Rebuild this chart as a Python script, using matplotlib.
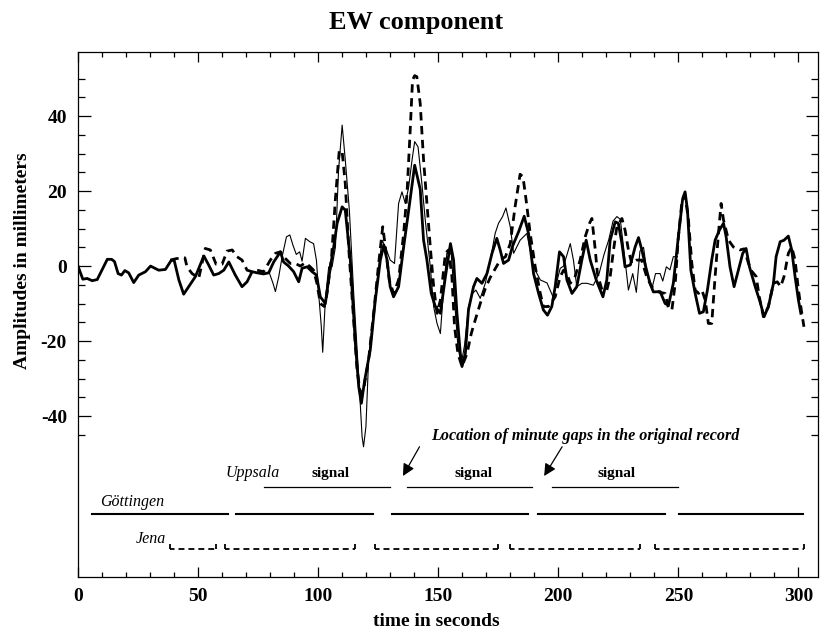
import matplotlib.pyplot as plt

plt.rcParams['font.family'] = ['Liberation Serif', 'DejaVu Serif']
plt.rcParams['axes.unicode_minus'] = False

# Goettingen (thick solid)
t_g = [0, 2, 3.8, 5.9, 8, 10, 12.2, 14, 15.2, 16.7, 18.1, 19.5, 21.1, 23.2, 25.3, 28.1, 30.2,
       33.6, 36.4, 38.9, 40.1, 42, 44, 46.1, 48.9, 52.4, 54.4, 56.5, 58.6, 60.7, 62.8, 65.5,
       68.3, 70.4, 72.5, 74.6, 77.3, 79.4, 81.5, 84.3, 85.6, 87.7, 89.8, 91.9, 93.3, 95.4,
       97.5, 99.3, 100.9, 103, 105.1, 106.5, 107.9, 110, 111.3, 113.4, 115.5, 116.9, 118,
       119.4, 121.7, 123.8, 125.9, 127.3, 128.7, 130, 131.4, 133.5, 135.6, 137.7, 140.2,
       142.5, 143.9, 145.3, 147.1, 148.8, 150.9, 153, 155.1, 156.4, 157.8, 159.2, 159.9,
       161.3, 162.6, 164.7, 166.1, 168.2, 170.3, 172.4, 174.4, 175.8, 177.2, 179.3, 181,
       183.5, 185.8, 187.6, 189.7, 191.8, 193.8, 195.5, 197.3, 198.7, 200.5, 202.2, 203.6,
       205.7, 207.7, 209.8, 211.6, 213.3, 215.8, 218.6, 220.2, 221.6, 223.7, 225, 226.5,
       227.8, 230, 232, 233.4, 234.8, 236.2, 238.2, 239.6, 242.4, 244.5, 245.9, 247.9, 250,
       251.8, 252.8, 253.8, 255.2, 257, 258.8, 260.4, 262.1, 263.9, 265.3, 267.1, 268.8,
       269.9, 271.5, 273.2, 275, 276.8, 278.2, 279.6, 282, 284, 285.7, 287.5, 289.6, 290.7,
       292.4, 294, 295.8, 297.2, 298.6, 300, 301]
a_g = [0, -3.5, -3.3, -3.9, -3.6, -1, 1.8, 1.8, 1.2, -2, -2.4, -1.2, -1.8, -4.4, -2.4, -1.5, 0,
       -1.1, -0.9, 1.6, 1.4, -3.7, -7.5, -5.5, -2.8, 2.7, 0.3, -2.4, -2, -1.1, 1.1, -2.4,
       -5.5, -4.2, -1.5, -1.8, -2.1, -1.8, 1.1, 3.8, 1.1, 0, -1.5, -4.2, -0.6, -0.2,
       -1.5, -2.4, -8.2, -10, -0.2, 5.2, 11.4, 15.8, 14.9, 1.6, -20.6, -32.2, -36.6,
       -30.4, -22.4, -9.1, 1.6, 5.6, 1.6, -5.5, -8.2, -5.5, 5.1, 14.9, 26.9,
       20.5, 6.9, 1.6, -7.3, -10.8, -12.6, -2.8, 6, 1.6, -12.6, -23.3, -26.8,
       -23.3, -11.7, -5.5, -3.3, -4.6, -2, 3.4, 7.4, 4.3, 0.7, 1.6, 5.4,
       9.2, 13.3, 8.7, -2, -7.3, -11.7, -13.1, -10.8, -5.5, 3.8, 2.5, -3.7,
       -7.3, -5.5, 1.6, 6.9, 1.6, -3.7, -8.2, -3.7, 6.9, 11.8, 11.4, 6,
       -0.2, 0.3, 5.1, 7.6, 4.3, 0.3, -4.6, -6.9, -6.8, -10, -10.4, -4.6, 7.8,
       18, 19.8, 14.9, -1.1, -7.3, -12.6, -12.2, -6.4, 1.6, 6.9, 9.6, 11.4,
       7.8, -0.2, -5.5, -1.1, 3.4, 4.7, -0.2, -5.5, -9.5, -13.5, -10.8, -4.6, 2.5,
       6.5, 6.9, 8, 4.3, -2.8, -9.1, -12.6]

# Jena (dashed)
t_j = [38.5, 41, 44.5, 45.4, 47.5, 50.3, 53, 55.1, 57.5, 60, 62.1, 64.2, 66.2, 68.3, 70.4,
       72.5, 74.6, 77.3, 80.1, 82.2, 84.3, 85.6, 88.4, 90.5, 92.6, 94.7, 96.7, 98.1, 99.5,
       100.9, 102.6, 103.7, 105.6, 107.2, 108.8, 110, 111.3, 112.7, 114.8, 116.2, 117.6,
       118.9, 121, 123.1, 125.2, 126.9, 128, 129.6, 131.4, 133.5, 135.6, 137, 138.4, 139.3,
       140.2, 141.1, 142.5, 143.9, 145.3, 146.7, 148.1, 149.5, 150.9, 153, 154.3, 155.7,
       156.8, 158.2, 159.9, 162, 163.8, 165.4, 167.5, 169.6, 171.7, 173.5, 175.8, 178, 180,
       182, 184.1, 185.3, 186.6, 188.3, 190.4, 192.5, 193.8, 195.9, 198.7, 200.8, 202.2,
       203.6, 205, 207, 209.1, 211.2, 213, 214, 215.4, 216.3, 218.2, 220.2, 221.6, 223,
       224.4, 226.5, 227.8, 229.2, 230.6, 232.6, 234.7, 236.8, 238.9, 241.6, 244.5, 245.9,
       247.3, 248.7, 250, 251.4, 252.8, 254.2, 255.6, 257, 258.4, 259.8, 261.2, 262.5,
       263.9, 265.3, 266.7, 267.8, 268.8, 270.9, 272.9, 275.7, 277.4, 279.2, 280.6, 282.4,
       283.7, 285.4, 287.5, 289.6, 291.2, 292.6, 294, 295.8, 297.2, 298.6, 300, 301.4, 302.3]
a_j = [1.6, 2, 2.2, -0.2, -2, -3.2, 4.7, 4.3, 0.5, 0.5, 4, 4.3, 2.5, 1.6, -1.1,
       -1.5, -1.1, -1.5, 1.6, 3.4, 3.8, 2.5, 0.7, 0.7, 0, 0.9, -0.2, -1.1, -4.6,
       -10, -10.8, -7.3, 2.5, 18, 30.9, 30.5, 22, 5.1, -14.4, -27.7, -34,
       -33, -25, -12.6, 0.7, 10.5, 5.1, -3.7, -7.3, -3.7, 8.7, 19.4, 37.1, 49.6,
       50.8, 50.5, 43.4, 28.3, 16.7, 5.1, -5.5, -12.6, -9.1, 3.4, 4.3, -2.8,
       -16.2, -23.3, -26.8, -23.3, -17.9, -14.4, -10, -6, -3, -1, 1.6, 2.5, 6,
       15.8, 24.5, 23.8, 17.6, 8.7, -0.2, -7.3, -10.8, -10.8, -8.2, -2.8, -1.1,
       -2, -4.6, -2.8, 1.6, 7.8, 11.4, 12.7, 4.3, -2, -6.4, -6.4, -2.8, 4.3,
       10.5, 12.7, 9.6, 4.3, 0.7, 1.6, 1.6, -2.8, -5.5, -6.9, -7.3, -11.3,
       -11.7, -4.6, 7.8, 16.7, 18.9, 12.3, 0.7, -6.4, -7.3, -6.4, -9.1, -15.3,
       -15.3, -2.8, 8.7, 16.7, 12.3, 6.9, 5.1, 4.3, 4.6, 0.7, -1.4, -2.8,
       -8.2, -13.5, -10.8, -4.6, -4.2, -5.5, -2.8, 3.4, 5.1, 1.6, -6.4, -12.6, -16.2]

# Uppsala (thin solid)
t_u = [79.5, 81.2, 82.2, 83.6, 85, 86.8, 88.2, 89.5, 90.9, 92.3, 93.3, 94.7, 96.5, 98.1, 99.3,
       100.2, 101.3, 101.9, 103, 104.4, 105.8, 107.2, 108.5, 110, 111.3, 113, 114.8, 116.9,
       118.3, 118.9, 119.9, 121, 123.1, 124.9, 126.6, 128, 130, 131.8, 133.5, 134.9, 136.3,
       137.7, 139.1, 140.2, 141.6, 143.2, 144.6, 146.7, 148.1, 149.5, 150.9, 152.3, 153.6,
       155.4, 156.8, 158.2, 159.6, 161, 162.6, 164.3, 165.7, 167.5, 169.6, 171.7, 173.7,
       175.1, 176.8, 178.2, 180, 181.4, 184.1, 186.9, 189.7, 192.5, 195.3, 197.8, 200.8,
       202.2, 205, 206.3, 207.7, 209.8, 212, 214.6, 217, 219, 221, 222.8, 224.4, 225.8,
       227.8, 229.2, 231, 232.5, 234, 235.5, 237, 239, 240.5, 242.4, 243.5, 245, 246.5,
       247.9, 249.6]
a_u = [-1.5, -4.6, -6.8, -2.8, 2.5, 7.8, 8.3, 5.6, 3.1, 3.8, 1.3, 7.4, 6.5, 6, 1.5,
       -7.3, -16, -23, -9, -0.2, -0.2, 5.1, 25.6, 37.6, 28.3, 14.9, -7.3, -29.5,
       -45.5, -48.2, -42.8, -25, -11.7, -2, 6.9, 5.1, 1.6, 0.7, 16.7, 19.8, 16.7,
       21.1, 28.3, 33.2, 31.8, 22, 12.3, -0.2, -10.8, -15.3, -18, -5.5, 3.4,
       3.4, -9.1, -21.5, -26, -21, -10.8, -7.3, -6.4, -8.6, -4.6, 1.6, 8.7,
       11.4, 13.2, 15.5, 10.5, 3.4, 6.9, 8.7, -0.2, -3.7, -4.5, -8.2, -0.6,
       0, 6, 1.6, -5.5, -4.6, -4.6, -5.1, -2, 3, 7, 12, 13.2, 12.5,
       1.6, -6.4, -2, -7, 4, 5, -2, -6, -2, -2, -4, -0.2, -1,
       2.5, 2.5]

# record segments (start, end) in seconds
upp_segs = [(77.6, 130), (137, 189), (197.3, 249.8)]
goe_segs = [(5.9, 62.5), (66, 123), (130.7, 187.3), (191.5, 244.5), (250.3, 302)]
jena_segs = [(38.2, 57.5), (61.3, 115.4), (123.5, 174.7), (180, 234), (240.3, 302.5)]
signal_x = [105, 164.6, 224.4]

fig = plt.figure(figsize=(8.32, 6.37), dpi=100)
ax = fig.add_axes([0.09375, 0.0942, 0.889, 0.824])

ax.plot(t_u, a_u, color='black', lw=0.8)
ax.plot(t_g, a_g, color='black', lw=2.0)
ax.plot(t_j, a_j, color='black', lw=2.0, linestyle=(0, (3, 2)))

for x0, x1 in upp_segs:
    ax.plot([x0, x1], [-59, -59], color='black', lw=0.9)
for x0, x1 in goe_segs:
    ax.plot([x0, x1], [-66, -66], color='black', lw=1.5)
for x0, x1 in jena_segs:
    ax.plot([x0, x1], [-75.5, -75.5], color='black', lw=1.3, linestyle=(0.8, (3.3, 2.2)))
    ax.plot([x0, x0], [-74.0, -75.5], color='black', lw=1.3, solid_capstyle='butt')
    ax.plot([x1, x1], [-74.0, -75.5], color='black', lw=1.3, solid_capstyle='butt')

ax.text(61.4, -55.2, 'Uppsala', style='italic', fontsize=11.5, va='center', ha='left')
ax.text(9.4, -62.8, 'Göttingen', style='italic', fontsize=11.5, va='center', ha='left')
ax.text(36.8, -72.8, 'Jena', style='italic', fontsize=11.5, va='center', ha='right')
for sx in signal_x:
    ax.text(sx, -55.2, 'signal', fontweight='bold', fontsize=11, va='center', ha='center')
ax.text(147.1, -45.3, 'Location of minute gaps in the original record', style='italic',
        fontweight='bold', fontsize=11.6, va='center', ha='left')

for tail, head in [((142.2, -48.2), (135.3, -56)), ((201.6, -48.2), (194.1, -56))]:
    ax.annotate('', xy=head, xytext=tail,
                arrowprops=dict(arrowstyle='-|>', color='black', lw=0.9,
                                mutation_scale=18, shrinkA=0, shrinkB=0))

ax.set_xlim(0, 308)
ax.set_ylim(-82.93, 57.07)
ax.set_xticks(range(0, 301, 50))
ax.set_xticks(range(0, 309, 10), minor=True)
ax.set_yticks(range(-40, 41, 20))
ax.set_yticks(range(-45, 51, 5), minor=True)
ax.tick_params(which='both', direction='in', top=True, right=True, width=0.9,
               labelsize=14)
ax.tick_params(axis='x', which='major', length=7, pad=8)
ax.tick_params(axis='x', which='minor', length=3.5)
ax.tick_params(axis='y', which='major', length=9, pad=8)
ax.tick_params(axis='y', which='minor', length=4.8)
for lab in ax.get_xticklabels() + ax.get_yticklabels():
    lab.set_fontweight('bold')
for sp in ax.spines.values():
    sp.set_linewidth(0.9)

fig.text(0.5, 0.964, 'EW component', fontsize=19, fontweight='bold', ha='center', va='center')
fig.text(0.524, 0.024, 'time in seconds', fontsize=14, fontweight='bold', ha='center', va='center')
fig.text(0.027, 0.59, 'Amplitudes in millimeters', fontsize=14, fontweight='bold',
         ha='center', va='center', rotation=90)

fig.savefig('out.png', dpi=100)
